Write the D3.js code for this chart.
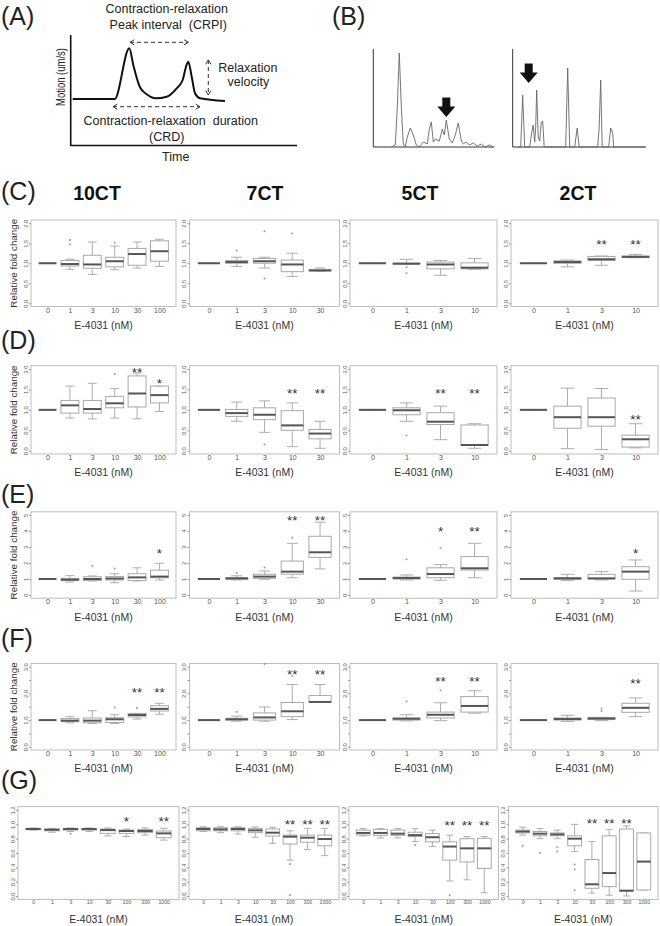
<!DOCTYPE html>
<html>
<head>
<meta charset="utf-8">
<script src="https://cdn.jsdelivr.net/npm/d3@7"></script>
<style>
  body { margin: 0; background: #fff; }
  text { font-family: "Liberation Sans", Arial, sans-serif; }
</style>
</head>
<body>
<svg id="fig" width="660" height="926"></svg>
<script>
// ---- data ----
var colTitles = ["10CT", "7CT", "5CT", "2CT"];
var doses = ["0", "1", "3", "10", "30", "100", "300", "1000"];

// y tick values per row
var ticksCD = [0, 0.5, 1, 1.5, 2];
var ticksE = [0, 1, 2, 3, 4, 5];
var ticksF = [0, 0.5, 1, 1.5, 2, 2.5, 3];
var ticksG = [0, 0.2, 0.4, 0.6, 0.8, 1, 1.2];

// box stats: [lower whisker, Q1, median, Q3, upper whisker], one list per column (10CT, 7CT, 5CT, 2CT)
var cBoxes = [
  [[1,1,1,1,1],[0.85,0.93,0.98,1.07,1.1],[0.72,0.875,0.97,1.2,1.53],[0.84,0.91,1.05,1.15,1.43],[0.88,0.95,1.23,1.37,1.53],[0.92,1.05,1.3,1.56,1.6]],
  [[1,1,1,1,1],[0.92,1.0,1.03,1.07,1.15],[0.88,1.0,1.05,1.12,1.15],[0.67,0.79,0.97,1.08,1.25],[0.8,0.81,0.82,0.84,0.88]],
  [[1,1,1,1,1],[0.97,0.98,0.99,1.0,1.1],[0.7,0.86,0.97,1.03,1.07],[0.85,0.86,0.89,1.01,1.12]],
  [[1,1,1,1,1],[0.91,1.0,1.03,1.06,1.08],[0.95,1.07,1.1,1.17,1.18],[1.14,1.14,1.16,1.18,1.22]]
];
var dBoxes = [
  [[1,1,1,1,1],[0.8,0.92,1.11,1.23,1.58],[0.78,0.92,1.02,1.23,1.65],[0.8,1.05,1.16,1.33,1.52],[0.78,1.07,1.4,1.83,1.9],[0.96,1.17,1.36,1.58,1.58]],
  [[1,1,1,1,1],[0.72,0.84,0.92,1.01,1.19],[0.45,0.76,0.88,1.05,1.22],[0.1,0.5,0.62,0.98,1.17],[0.06,0.29,0.42,0.52,0.72]],
  [[1,1,1,1,1],[0.72,0.88,0.99,1.05,1.17],[0.27,0.64,0.71,0.93,1.09],[0.06,0.13,0.14,0.63,0.66]],
  [[1,1,1,1,1],[0.05,0.55,0.82,1.09,1.53],[0.03,0.6,0.82,1.29,1.52],[0.07,0.09,0.28,0.38,0.66]]
];
var eBoxes = [
  [[1,1,1,1,1],[0.81,0.9,0.96,1.04,1.21],[0.88,0.9,1.0,1.14,1.19],[0.77,0.94,1.03,1.15,1.33],[0.88,0.9,1.1,1.33,1.7],[0.94,1.08,1.15,1.55,1.98]],
  [[1,1,1,1,1],[0.94,0.98,1.04,1.08,1.2],[0.98,1.04,1.15,1.3,1.5],[1.08,1.3,1.46,2.12,3.23],[1.63,2.35,2.67,3.67,4.55]],
  [[1,1,1,1,1],[0.94,1.0,1.06,1.12,1.25],[0.92,1.08,1.31,1.7,1.9],[1.08,1.56,1.67,2.4,3.23]],
  [[1,1,1,1,1],[0.9,0.98,1.04,1.08,1.29],[0.94,1.0,1.04,1.29,1.46],[0.25,0.98,1.46,1.77,2.19]]
];
var fBoxes = [
  [[1,1,1,1,1],[0.9,0.94,0.98,1.06,1.13],[0.87,0.9,0.98,1.08,1.35],[0.87,0.91,1.03,1.09,1.2],[1.04,1.12,1.19,1.25,1.25],[1.22,1.34,1.42,1.54,1.63]],
  [[1,1,1,1,1],[0.96,1.0,1.03,1.07,1.15],[0.96,1.0,1.1,1.27,1.49],[1.02,1.13,1.33,1.66,2.33],[1.68,1.68,1.68,1.92,2.33]],
  [[1,1,1,1,1],[0.97,1.0,1.05,1.08,1.2],[0.98,1.08,1.2,1.3,1.65],[1.26,1.3,1.53,1.88,2.1]],
  [[1,1,1,1,1],[0.95,1.0,1.04,1.08,1.18],[0.98,1.02,1.06,1.1,1.1],[1.13,1.29,1.46,1.63,1.83]]
];
var gBoxes = [
  [[0.92,0.926,0.935,0.944,0.95],[0.89,0.91,0.925,0.935,0.945],[0.9,0.92,0.935,0.94,0.95],[0.9,0.92,0.935,0.94,0.95],[0.84,0.874,0.92,0.935,0.95],[0.83,0.874,0.907,0.92,0.935],[0.85,0.884,0.907,0.93,0.95],[0.78,0.814,0.874,0.907,0.944]],
  [[0.9,0.91,0.935,0.953,0.967],[0.884,0.91,0.93,0.953,0.967],[0.865,0.91,0.935,0.953,0.967],[0.82,0.884,0.916,0.944,0.963],[0.735,0.837,0.884,0.935,0.96],[0.5,0.726,0.828,0.85,0.91],[0.65,0.75,0.814,0.85,0.944],[0.563,0.7,0.795,0.85,0.944]],
  [[0.84,0.85,0.88,0.92,0.94],[0.81,0.846,0.88,0.93,0.94],[0.81,0.846,0.87,0.92,0.94],[0.76,0.83,0.85,0.89,0.94],[0.69,0.756,0.82,0.87,0.92],[0.21,0.5,0.69,0.756,0.85],[0.226,0.475,0.665,0.8,0.83],[0.045,0.385,0.665,0.805,0.83]],
  [[0.85,0.88,0.9,0.92,0.96],[0.8,0.84,0.87,0.9,0.94],[0.8,0.84,0.86,0.88,0.92],[0.62,0.7,0.8,0.84,1.0],[0.04,0.107,0.163,0.51,0.76],[0.01,0.13,0.32,0.84,0.93],[0.0,0.07,0.074,0.935,0.977],[0.084,0.084,0.48,0.88,0.88]]
];

// outliers: [box index, value]
var cOut = [[[1,1.58],[1,1.47],[3,1.51]], [[1,1.32],[2,1.8],[2,0.62],[3,1.74]], [[1,0.9],[1,0.75]], []];
var dOut = [[[3,1.88]], [[2,0.15]], [[1,0.37]], []];
var eOut = [[[2,1.83],[3,1.65]], [[1,1.38],[2,1.72],[3,3.58]], [[1,2.23],[2,2.92]], []];
var fOut = [[[3,1.47],[4,1.45]], [[1,1.3],[2,3.1],[3,2.65]], [[1,1.7],[2,2.12]], [[2,1.43],[2,1.34]]];
var gOut = [[[2,0.87]], [[5,0.447],[5,0.014]], [[3,0.71],[5,0.01]], [[0,0.7],[1,0.6],[2,0.68],[2,0.62],[3,0.44],[3,0.37],[3,0.08]]];

// significance marks: [box index, value level, label]
var cSig = [[], [], [], [[2,1.55,"**"],[3,1.55,"**"]]];
var dSig = [[[4,1.99,"**"],[5,1.73,"*"]], [[3,1.47,"**"],[4,1.47,"**"]], [[2,1.48,"**"],[3,1.48,"**"]], [[3,0.84,"**"]]];
var eSig = [[[5,2.77,"*"]], [[3,4.83,"**"],[4,4.83,"**"]], [[2,4.13,"*"],[3,4.13,"**"]], [[3,2.77,"*"]]];
var fSig = [[[4,2.16,"**"],[5,2.16,"**"]], [[3,2.81,"**"],[4,2.81,"**"]], [[2,2.56,"**"],[3,2.56,"**"]], [[3,2.5,"**"]]];
var gSig = [[[5,1.08,"*"],[7,1.08,"**"]], [[5,1.04,"**"],[6,1.04,"**"],[7,1.04,"**"]], [[5,1.03,"**"],[6,1.03,"**"],[7,1.03,"**"]], [[4,1.05,"**"],[5,1.05,"**"],[6,1.05,"**"]]];

// schematic (A): [time, motion]
var motionTrace = [[2,0],[44,0],[58.6,50.7],[62.6,34],[69.3,11.7],[76,4.7],[85,0.7],[96,2.3],[106,10.7],[112,19],[115.3,32.3],[117.6,37.3],[121,22.3],[124.3,5.7],[129.3,0.7],[154.3,-2]];

// example traces (B): [time, amplitude]
var traceLeft = [[18,0],[22,2],[24,40],[26,94],[28,40],[30,3],[32,0],[34,10],[37,19],[40,12],[43,2],[46,0],[50,5],[54,3],[56,18],[58,25],[60,5],[62,8],[66,6],[69,18],[71,12],[73,27],[76,8],[79,4],[82,12],[85,24],[88,6],[90,3],[93,5],[96,2],[100,4],[104,1],[108,3],[112,0],[116,2],[120,0]];
var traceRight = [[5,0],[8,0],[10,52],[12,0],[17,0],[19,14],[20.5,22],[22,5],[23,20],[24,57],[25.5,10],[27,6],[28.5,24],[30,26],[31.5,0],[50,0],[53,0],[55,79],[55.5,60],[57,0],[62,0],[64.5,19],[66.5,0],[85,0],[86.5,20],[88,67],[89.5,0],[96,0],[98,19],[100,14],[101,0],[133,0]];

// ---- layout ----
var svg = d3.select("#fig");
var ink = "#222";

var framesCF = [[31, 176], [189.5, 339.5], [350, 497], [511, 658]];
var framesG = [[18, 179], [189, 339], [349, 498.5], [508.5, 658]];
var titleX = [97, 265, 420, 578];

var rows = [
  {boxes: cBoxes, outs: cOut, sig: cSig, y0: 220, y1: 306.5, ymax: 2, ticks: ticksCD, every: 0.5, fmt: d3.format(".1f"), frames: framesCF, xLabY: 328.5, font: 7, yTitle: true},
  {boxes: dBoxes, outs: dOut, sig: dSig, y0: 365.7, y1: 454, ymax: 2, ticks: ticksCD, every: 0.5, fmt: d3.format(".1f"), frames: framesCF, xLabY: 476, font: 7, yTitle: true},
  {boxes: eBoxes, outs: eOut, sig: eSig, y0: 511.8, y1: 598.2, ymax: 5, ticks: ticksE, every: 1, fmt: d3.format("d"), frames: framesCF, xLabY: 621, font: 7, yTitle: true},
  {boxes: fBoxes, outs: fOut, sig: fSig, y0: 663.5, y1: 750, ymax: 3, ticks: ticksF, every: 1, fmt: d3.format(".1f"), frames: framesCF, xLabY: 772, font: 7, yTitle: true},
  {boxes: gBoxes, outs: gOut, sig: gSig, y0: 806.6, y1: 899.4, ymax: 1.2, ticks: ticksG, every: 0.2, fmt: d3.format(".1f"), frames: framesG, xLabY: 923, font: 5.2, yTitle: false}
];

// panel letters
var letters = [["(A)", 1, 25], ["(B)", 332, 25], ["(C)", 1, 200], ["(D)", 1, 349], ["(E)", 1, 503], ["(F)", 1, 647], ["(G)", 1, 789]];
svg.selectAll("text.letter").data(letters).join("text")
  .attr("class", "letter")
  .attr("x", function(d) { return d[1]; })
  .attr("y", function(d) { return d[2]; })
  .attr("font-size", 25)
  .attr("fill", ink)
  .text(function(d) { return d[0]; });

// column titles
svg.selectAll("text.coltitle").data(colTitles).join("text")
  .attr("class", "coltitle")
  .attr("x", function(d, i) { return titleX[i]; })
  .attr("y", 200)
  .attr("text-anchor", "middle")
  .attr("font-size", 19.5)
  .attr("font-weight", "bold")
  .attr("fill", "#111")
  .text(function(d) { return d; });

// ---- (A) schematic ----
var aX = d3.scaleLinear().domain([0, 100]).range([70.7, 170.7]);
var aY = d3.scaleLinear().domain([0, 100]).range([99, -1]);
var ga = svg.append("g");
ga.append("path")
  .attr("d", "M70.7,35V145.5H297")
  .attr("fill", "none").attr("stroke", "#111").attr("stroke-width", 1.6);
ga.append("path")
  .datum(motionTrace)
  .attr("d", d3.line().x(function(d) { return aX(d[0]); }).y(function(d) { return aY(d[1]); }).curve(d3.curveMonotoneX))
  .attr("fill", "none").attr("stroke", "#111").attr("stroke-width", 2);

function dashedArrow(g, x1, y1, x2, y2) {
  g.append("line").attr("x1", x1).attr("y1", y1).attr("x2", x2).attr("y2", y2)
    .attr("stroke", "#333").attr("stroke-width", 1).attr("stroke-dasharray", "4,3");
  var ang = Math.atan2(y2 - y1, x2 - x1);
  [[x1, y1, ang + Math.PI], [x2, y2, ang]].forEach(function(e) {
    var s = 5, a1 = e[2] + 2.6, a2 = e[2] - 2.6;
    g.append("path")
      .attr("d", "M" + (e[0] + s * Math.cos(a1)) + "," + (e[1] + s * Math.sin(a1)) + "L" + e[0] + "," + e[1] + "L" + (e[0] + s * Math.cos(a2)) + "," + (e[1] + s * Math.sin(a2)))
      .attr("fill", "none").attr("stroke", "#333").attr("stroke-width", 1);
  });
}
dashedArrow(ga, 130, 42.3, 188.3, 42.3);
dashedArrow(ga, 208.3, 60, 208.3, 95);
dashedArrow(ga, 113, 106.7, 200, 106.7);

var aText = [
  ["Contraction-relaxation", 166.7, 13, "middle"],
  ["Peak interval  (CRPI)", 168.3, 29, "middle"],
  ["Relaxation", 218.3, 71.5, "start"],
  ["velocity", 248.3, 85.5, "middle"],
  ["Contraction-relaxation  duration", 170.7, 125, "middle"],
  ["(CRD)", 166.7, 140.5, "middle"],
  ["Time", 175.7, 160.5, "middle"]
];
ga.selectAll("text.at").data(aText).join("text")
  .attr("class", "at")
  .attr("x", function(d) { return d[1]; })
  .attr("y", function(d) { return d[2]; })
  .attr("text-anchor", function(d) { return d[3]; })
  .attr("font-size", 12.5)
  .attr("fill", ink)
  .style("white-space", "pre")
  .text(function(d) { return d[0]; });
ga.append("text")
  .attr("transform", "translate(65,77) rotate(-90)")
  .attr("text-anchor", "middle")
  .attr("font-size", 13)
  .attr("textLength", 58)
  .attr("lengthAdjust", "spacingAndGlyphs")
  .attr("fill", ink)
  .text("Motion (um/s)");

// ---- (B) example traces ----
var bY = d3.scaleLinear().domain([0, 100]).range([147, 47]);
var bLeftX = d3.scaleLinear().domain([0, 121]).range([373.3, 494.3]);
var bRightX = d3.scaleLinear().domain([0, 133]).range([512.7, 645.7]);
var gb = svg.append("g");
[[bLeftX, traceLeft, 73, 30], [bRightX, traceRight, 16, 64]].forEach(function(t) {
  var sx = t[0];
  gb.append("path")
    .attr("d", "M" + sx(0) + "," + bY(98) + "V" + bY(0) + "H" + sx.range()[1])
    .attr("fill", "none").attr("stroke", "#333").attr("stroke-width", 1);
  gb.append("path")
    .datum(t[1])
    .attr("d", d3.line().x(function(d) { return sx(d[0]); }).y(function(d) { return bY(d[1]); }))
    .attr("fill", "none").attr("stroke", "#666").attr("stroke-width", 0.9);
  // block arrow pointing down at the marked beat
  var ax = sx(t[2]), tip = bY(t[3]);
  gb.append("path")
    .attr("d", "M" + (ax - 4) + "," + (tip - 19.5) + "H" + (ax + 4) + "V" + (tip - 10.5) + "H" + (ax + 9) + "L" + ax + "," + tip + "L" + (ax - 9) + "," + (tip - 10.5) + "H" + (ax - 4) + "Z")
    .attr("fill", "#111");
});

// ---- box plot panels ----
function drawPanel(row, col) {
  var box = row.boxes[col];
  var n = box.length;
  var fr = row.frames[col];
  var g = svg.append("g");
  var x = d3.scaleLinear().domain([0.5 - 0.04 * n, n + 0.5 + 0.04 * n]).range([fr[0], fr[1]]);
  var y = d3.scaleLinear().domain([-0.04 * row.ymax, row.ymax * 1.04]).range([row.y1, row.y0]);
  var bw = (x(2) - x(1)) * 0.8;

  g.append("rect")
    .attr("x", fr[0]).attr("y", row.y0)
    .attr("width", fr[1] - fr[0]).attr("height", row.y1 - row.y0)
    .attr("fill", "none").attr("stroke", "#bdbdbd").attr("stroke-width", 1);

  // y axis with rotated labels
  var ya = g.append("g")
    .attr("transform", "translate(" + fr[0] + ",0)")
    .call(d3.axisLeft(y).tickValues(row.ticks).tickSize(2)
      .tickFormat(function(v) {
        var r = Math.round(v / row.every * 1000) / 1000;
        return Math.abs(r - Math.round(r)) < 1e-6 ? row.fmt(v) : "";
      }));
  ya.select(".domain").remove();
  ya.selectAll(".tick line").attr("stroke", "#999");
  ya.selectAll(".tick text")
    .attr("x", 0).attr("y", -3.2).attr("dy", 0)
    .attr("transform", "rotate(-90)")
    .attr("text-anchor", "middle")
    .attr("font-size", 5.8)
    .attr("font-family", null)
    .attr("fill", "#555");

  // x axis labels
  var xa = g.append("g")
    .attr("transform", "translate(0," + row.y1 + ")")
    .call(d3.axisBottom(x).tickValues(d3.range(1, n + 1)).tickSize(0).tickPadding(1.2)
      .tickFormat(function(i) { return doses[i - 1]; }));
  xa.select(".domain").remove();
  xa.selectAll(".tick text").attr("font-size", row.font).attr("font-family", null).attr("fill", "#555");

  // boxes
  var bg = g.selectAll("g.box").data(box).join("g")
    .attr("class", "box")
    .attr("transform", function(d, i) { return "translate(" + x(i + 1) + ",0)"; });
  bg.append("line").attr("y1", function(d) { return y(d[0]); }).attr("y2", function(d) { return y(d[1]); });
  bg.append("line").attr("y1", function(d) { return y(d[3]); }).attr("y2", function(d) { return y(d[4]); });
  bg.append("line").attr("x1", -bw / 4).attr("x2", bw / 4)
    .attr("y1", function(d) { return y(d[0]); }).attr("y2", function(d) { return y(d[0]); });
  bg.append("line").attr("x1", -bw / 4).attr("x2", bw / 4)
    .attr("y1", function(d) { return y(d[4]); }).attr("y2", function(d) { return y(d[4]); });
  bg.selectAll("line").attr("stroke", "#adadad").attr("stroke-width", 1);
  bg.append("rect")
    .attr("x", -bw / 2).attr("width", bw)
    .attr("y", function(d) { return y(d[3]); })
    .attr("height", function(d) { return y(d[1]) - y(d[3]); })
    .attr("fill", "#fff").attr("stroke", "#a8a8a8").attr("stroke-width", 1);
  bg.append("line")
    .attr("x1", -bw / 2).attr("x2", bw / 2)
    .attr("y1", function(d) { return y(d[2]); }).attr("y2", function(d) { return y(d[2]); })
    .attr("stroke", "#555").attr("stroke-width", 2);

  g.selectAll("circle.out").data(row.outs[col]).join("circle")
    .attr("class", "out")
    .attr("cx", function(d) { return x(d[0] + 1); })
    .attr("cy", function(d) { return y(d[1]); })
    .attr("r", 1)
    .attr("fill", "#999");

  g.selectAll("text.sig").data(row.sig[col]).join("text")
    .attr("class", "sig")
    .attr("x", function(d) { return x(d[0] + 1); })
    .attr("y", function(d) { return y(d[1]) + 7.5; })
    .attr("text-anchor", "middle")
    .attr("font-size", 13.5)
    .attr("fill", "#333")
    .text(function(d) { return d[2]; });

  g.append("text")
    .attr("x", (fr[0] + fr[1]) / 2)
    .attr("y", row.xLabY)
    .attr("text-anchor", "middle")
    .attr("font-size", 10.5)
    .attr("fill", "#333")
    .text("E-4031 (nM)");

  if (row.yTitle && col === 0) {
    g.append("text")
      .attr("transform", "translate(16.5," + ((row.y0 + row.y1) / 2) + ") rotate(-90)")
      .attr("text-anchor", "middle")
      .attr("font-size", 9.8)
      .attr("fill", "#333")
      .text("Relative fold change");
  }
}

rows.forEach(function(row) {
  for (var c = 0; c < 4; c++) drawPanel(row, c);
});
</script>
</body>
</html>
